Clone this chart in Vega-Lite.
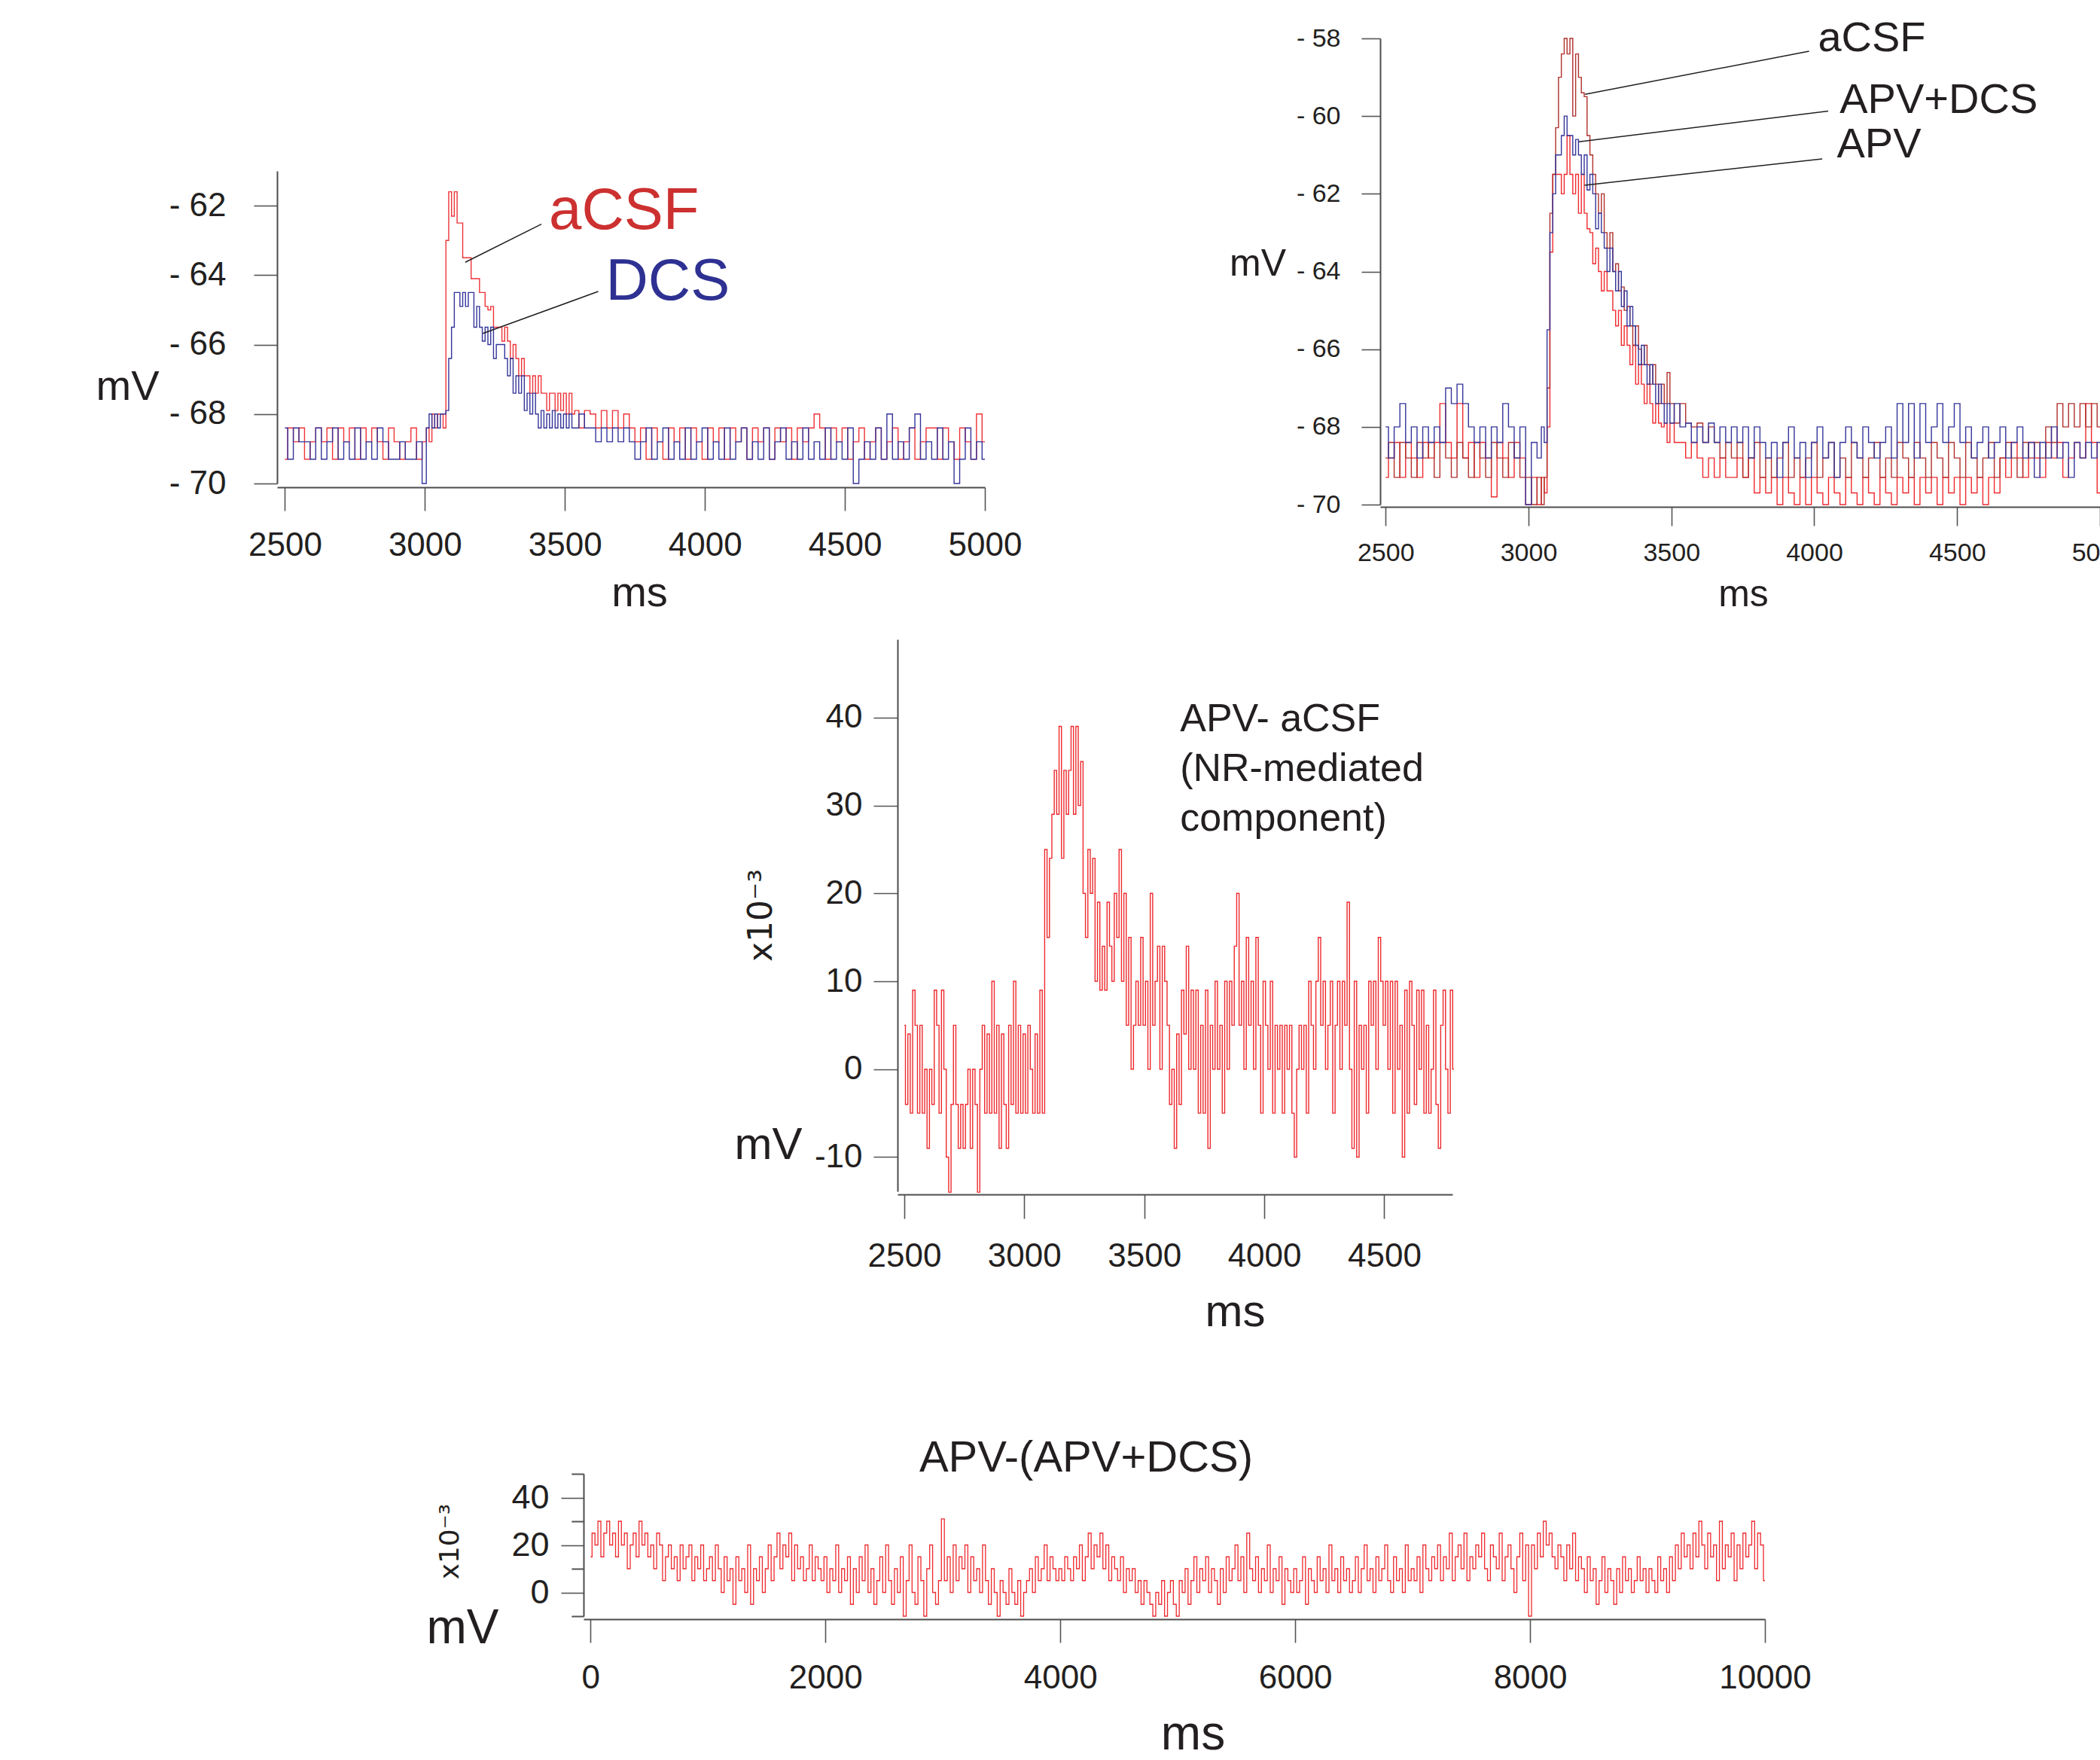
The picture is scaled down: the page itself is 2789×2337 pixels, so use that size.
{
"$schema": "https://vega.github.io/schema/vega-lite/v6.json",
"width": 2789, "height": 2337,
"autosize": {"type": "none"},
"padding": 0,
"background": "white",
"config": {
 "view": {"stroke": null},
 "axis": {"grid": false, "domainColor": "#4d4d4d", "domainWidth": 2, "tickColor": "#555555", "tickWidth": 1.6, "labelFont": "Liberation Sans", "titleFont": "Liberation Sans", "labelColor": "#231f20", "titleColor": "#231f20", "titleFontWeight": "normal", "labelFlush": false, "labelOverlap": false, "labelBound": false},
 "text": {"font": "Liberation Sans", "color": "#231f20"}
},
"datasets": {
"p1": [
{"t":2500,"a":-69.3,"d":-68.4},{"t":2520,"a":-68.4,"d":-69.3},{"t":2540,"a":-68.8,"d":-68.4},{"t":2560,"a":-68.4,"d":-68.8},{"t":2580,"a":-69.3,"d":-68.8},{"t":2600,"a":-68.8,"d":-69.3},{"t":2620,"a":-68.4,"d":-68.4},{"t":2640,"a":-68.8,"d":-69.3},{"t":2660,"a":-68.4,"d":-68.8},{"t":2680,"a":-69.3,"d":-68.4},{"t":2700,"a":-68.4,"d":-69.3},{"t":2720,"a":-68.8,"d":-68.8},{"t":2740,"a":-68.4,"d":-69.3},{"t":2760,"a":-69.3,"d":-68.4},{"t":2780,"a":-68.4,"d":-69.3},{"t":2800,"a":-68.8,"d":-68.8},{"t":2820,"a":-68.4,"d":-69.3},{"t":2840,"a":-68.8,"d":-68.4},{"t":2860,"a":-69.3,"d":-68.8},{"t":2880,"a":-68.4,"d":-69.3},{"t":2900,"a":-68.8,"d":-69.3},{"t":2920,"a":-69.3,"d":-68.8},{"t":2940,"a":-68.8,"d":-69.3},{"t":2960,"a":-68.4,"d":-69.3},{"t":2980,"a":-69.3,"d":-68.8},
{"t":3000,"a":-68.8,"d":-70.0},{"t":3010,"a":-68.4,"d":-68.4},{"t":3020,"a":-68.8,"d":-68.0},{"t":3030,"a":-68.0,"d":-68.4},{"t":3040,"a":-68.4,"d":-68.0},{"t":3050,"a":-68.0,"d":-68.4},{"t":3060,"a":-68.0,"d":-68.0},{"t":3070,"a":-68.4,"d":-68.0},{"t":3080,"a":-63.0,"d":-67.9},{"t":3090,"a":-61.6,"d":-66.4},{"t":3100,"a":-62.3,"d":-65.5},{"t":3110,"a":-61.6,"d":-64.5},{"t":3120,"a":-62.5,"d":-64.5},{"t":3130,"a":-62.5,"d":-64.9},{"t":3140,"a":-63.5,"d":-64.5},{"t":3150,"a":-63.5,"d":-64.9},{"t":3160,"a":-63.5,"d":-64.5},{"t":3170,"a":-64.1,"d":-64.5},{"t":3180,"a":-64.1,"d":-65.5},{"t":3190,"a":-64.1,"d":-64.9},{"t":3200,"a":-64.5,"d":-65.5},{"t":3210,"a":-64.5,"d":-65.9},{"t":3220,"a":-64.9,"d":-65.5},{"t":3230,"a":-65.0,"d":-66.0},{"t":3240,"a":-64.9,"d":-65.5},{"t":3250,"a":-65.5,"d":-66.4},{"t":3260,"a":-65.5,"d":-66.0},{"t":3270,"a":-65.5,"d":-66.0},{"t":3280,"a":-65.9,"d":-66.0},{"t":3290,"a":-65.5,"d":-66.4},{"t":3300,"a":-65.9,"d":-66.9},{"t":3310,"a":-66.4,"d":-66.4},{"t":3320,"a":-66.0,"d":-67.4},{"t":3330,"a":-66.4,"d":-66.9},{"t":3340,"a":-66.9,"d":-67.4},{"t":3350,"a":-66.4,"d":-66.9},{"t":3360,"a":-66.9,"d":-67.9},{"t":3370,"a":-66.9,"d":-67.4},{"t":3380,"a":-67.4,"d":-68.0},{"t":3390,"a":-66.9,"d":-67.4},{"t":3400,"a":-67.4,"d":-68.0},{"t":3410,"a":-66.9,"d":-68.4},{"t":3420,"a":-67.4,"d":-67.9},{"t":3430,"a":-67.4,"d":-68.4},{"t":3440,"a":-67.9,"d":-68.0},{"t":3450,"a":-67.4,"d":-68.4},{"t":3460,"a":-67.4,"d":-67.9},{"t":3470,"a":-67.9,"d":-68.4},{"t":3480,"a":-67.4,"d":-68.0},{"t":3490,"a":-67.9,"d":-68.4},{"t":3500,"a":-67.4,"d":-68.0},{"t":3510,"a":-68.0,"d":-68.4},{"t":3520,"a":-67.4,"d":-68.0},{"t":3530,"a":-68.0,"d":-68.4},{"t":3540,"a":-67.9,"d":-68.4},
{"t":3560,"a":-68.4,"d":-68.0},{"t":3580,"a":-67.9,"d":-68.4},{"t":3600,"a":-68.0,"d":-68.4},{"t":3620,"a":-68.4,"d":-68.8},{"t":3640,"a":-67.9,"d":-68.4},{"t":3660,"a":-68.4,"d":-68.8},{"t":3680,"a":-67.9,"d":-68.4},{"t":3700,"a":-68.4,"d":-68.8},{"t":3720,"a":-68.0,"d":-68.4},{"t":3740,"a":-68.4,"d":-68.8},
{"t":3760,"a":-68.8,"d":-69.3},{"t":3780,"a":-68.4,"d":-68.8},{"t":3800,"a":-69.3,"d":-68.4},{"t":3820,"a":-68.4,"d":-69.3},{"t":3840,"a":-68.8,"d":-68.8},{"t":3860,"a":-69.3,"d":-68.4},{"t":3880,"a":-68.4,"d":-69.3},{"t":3900,"a":-68.8,"d":-68.8},{"t":3920,"a":-68.4,"d":-69.3},{"t":3940,"a":-69.3,"d":-68.4},{"t":3960,"a":-68.4,"d":-69.3},{"t":3980,"a":-68.8,"d":-68.8},{"t":4000,"a":-69.3,"d":-68.4},{"t":4020,"a":-68.4,"d":-69.3},{"t":4040,"a":-68.8,"d":-68.8},{"t":4060,"a":-68.4,"d":-69.3},{"t":4080,"a":-69.3,"d":-68.4},{"t":4100,"a":-68.4,"d":-69.3},{"t":4120,"a":-68.8,"d":-68.8},{"t":4140,"a":-68.4,"d":-68.4},{"t":4160,"a":-69.3,"d":-69.3},{"t":4180,"a":-68.4,"d":-68.8},{"t":4200,"a":-68.8,"d":-69.3},{"t":4220,"a":-68.4,"d":-68.4},{"t":4240,"a":-69.3,"d":-69.3},{"t":4260,"a":-68.4,"d":-68.8},{"t":4280,"a":-68.8,"d":-68.4},{"t":4300,"a":-68.4,"d":-69.3},{"t":4320,"a":-69.3,"d":-68.8},{"t":4340,"a":-68.4,"d":-69.3},{"t":4360,"a":-68.8,"d":-68.4},{"t":4380,"a":-68.4,"d":-69.3},{"t":4400,"a":-68.0,"d":-68.8},{"t":4420,"a":-68.4,"d":-69.3},{"t":4440,"a":-69.3,"d":-68.4},{"t":4460,"a":-68.4,"d":-69.3},{"t":4480,"a":-68.8,"d":-68.8},{"t":4500,"a":-68.4,"d":-69.3},{"t":4520,"a":-69.3,"d":-68.4},{"t":4540,"a":-68.8,"d":-70.0},{"t":4560,"a":-68.4,"d":-69.3},{"t":4580,"a":-69.3,"d":-68.8},{"t":4600,"a":-68.8,"d":-69.3},{"t":4620,"a":-68.4,"d":-68.4},{"t":4640,"a":-69.3,"d":-69.3},{"t":4660,"a":-68.8,"d":-68.0},{"t":4680,"a":-68.4,"d":-69.3},{"t":4700,"a":-69.3,"d":-68.8},{"t":4720,"a":-68.8,"d":-69.3},{"t":4740,"a":-68.4,"d":-68.4},{"t":4760,"a":-69.3,"d":-68.0},{"t":4780,"a":-68.8,"d":-69.3},{"t":4800,"a":-68.4,"d":-68.8},{"t":4820,"a":-68.4,"d":-69.3},{"t":4840,"a":-69.3,"d":-68.4},{"t":4860,"a":-68.4,"d":-69.3},{"t":4880,"a":-68.8,"d":-68.8},{"t":4900,"a":-69.3,"d":-70.0},{"t":4920,"a":-68.4,"d":-69.3},{"t":4940,"a":-68.8,"d":-68.4},{"t":4960,"a":-69.3,"d":-69.3},{"t":4980,"a":-68.0,"d":-68.8},{"t":5000,"a":-68.8,"d":-69.3}
],
"p2": [
{"t":2500,"c":-68.8,"p":-69.3,"b":-68.0},{"t":2520,"c":-68.4,"p":-68.8,"b":-68.8},{"t":2540,"c":-69.3,"p":-68.4,"b":-68.0},{"t":2560,"c":-68.4,"p":-69.3,"b":-67.4},{"t":2580,"c":-68.8,"p":-68.4,"b":-68.4},{"t":2600,"c":-69.3,"p":-68.8,"b":-68.0},{"t":2620,"c":-68.4,"p":-69.3,"b":-68.8},{"t":2640,"c":-68.8,"p":-68.4,"b":-68.0},{"t":2660,"c":-68.4,"p":-68.8,"b":-68.4},{"t":2680,"c":-69.3,"p":-68.4,"b":-68.0},{"t":2700,"c":-68.4,"p":-67.4,"b":-68.4},{"t":2720,"c":-68.8,"p":-68.4,"b":-67.0},{"t":2740,"c":-69.3,"p":-68.8,"b":-67.4},{"t":2760,"c":-68.4,"p":-67.4,"b":-66.9},{"t":2780,"c":-68.8,"p":-68.8,"b":-67.4},{"t":2800,"c":-69.3,"p":-68.4,"b":-68.0},{"t":2820,"c":-68.4,"p":-69.3,"b":-68.4},{"t":2840,"c":-68.8,"p":-68.4,"b":-68.0},{"t":2860,"c":-69.3,"p":-68.8,"b":-68.8},{"t":2880,"c":-68.4,"p":-69.8,"b":-68.0},{"t":2900,"c":-68.8,"p":-68.4,"b":-68.4},{"t":2920,"c":-69.3,"p":-68.8,"b":-67.4},{"t":2940,"c":-68.4,"p":-69.3,"b":-68.0},{"t":2960,"c":-68.8,"p":-68.4,"b":-68.8},{"t":2980,"c":-69.3,"p":-68.8,"b":-68.0},{"t":3000,"c":-69.3,"p":-70.0,"b":-70.0},{"t":3020,"c":-70.0,"p":-69.3,"b":-68.4},{"t":3040,"c":-69.3,"p":-70.0,"b":-68.8},{"t":3050,"c":-70.0,"p":-69.3,"b":-68.0},
{"t":3060,"c":-69.3,"p":-69.7,"b":-68.4},{"t":3070,"c":-67.0,"p":-68.0,"b":-65.5},{"t":3080,"c":-62.5,"p":-63.5,"b":-63.0},{"t":3090,"c":-61.5,"p":-61.5,"b":-62.0},{"t":3100,"c":-60.3,"p":-61.5,"b":-61.0},{"t":3110,"c":-59.0,"p":-61.5,"b":-61.0},{"t":3120,"c":-58.4,"p":-62.0,"b":-60.5},{"t":3130,"c":-58.0,"p":-61.5,"b":-60.0},{"t":3140,"c":-58.4,"p":-60.5,"b":-60.5},{"t":3150,"c":-58.0,"p":-61.5,"b":-60.5},{"t":3160,"c":-60.0,"p":-62.0,"b":-61.0},{"t":3170,"c":-58.4,"p":-61.5,"b":-60.6},{"t":3180,"c":-59.0,"p":-62.5,"b":-61.0},{"t":3190,"c":-59.4,"p":-61.5,"b":-61.5},{"t":3200,"c":-59.5,"p":-62.5,"b":-61.0},{"t":3210,"c":-60.5,"p":-62.9,"b":-61.9},{"t":3220,"c":-61.0,"p":-63.0,"b":-61.5},{"t":3230,"c":-61.5,"p":-63.8,"b":-62.0},{"t":3240,"c":-62.0,"p":-63.4,"b":-62.9},{"t":3250,"c":-62.5,"p":-64.0,"b":-62.5},{"t":3260,"c":-62.0,"p":-64.5,"b":-63.0},{"t":3270,"c":-63.0,"p":-64.0,"b":-63.4},{"t":3280,"c":-63.4,"p":-64.5,"b":-64.0},{"t":3290,"c":-63.0,"p":-64.5,"b":-63.4},{"t":3300,"c":-64.0,"p":-65.0,"b":-64.0},{"t":3310,"c":-63.8,"p":-65.4,"b":-64.5},{"t":3320,"c":-64.5,"p":-65.0,"b":-64.0},{"t":3330,"c":-64.4,"p":-65.9,"b":-64.9},{"t":3340,"c":-65.0,"p":-65.4,"b":-64.5},{"t":3350,"c":-64.9,"p":-65.9,"b":-65.4},{"t":3360,"c":-65.4,"p":-66.4,"b":-64.9},{"t":3370,"c":-65.9,"p":-65.9,"b":-65.4},{"t":3380,"c":-65.4,"p":-66.9,"b":-65.9},{"t":3390,"c":-66.0,"p":-66.4,"b":-66.4},{"t":3400,"c":-66.4,"p":-66.9,"b":-65.9},{"t":3410,"c":-65.9,"p":-67.4,"b":-66.4},{"t":3420,"c":-66.4,"p":-66.9,"b":-66.9},{"t":3430,"c":-66.9,"p":-67.4,"b":-66.4},{"t":3440,"c":-66.4,"p":-67.9,"b":-66.9},{"t":3450,"c":-66.9,"p":-67.4,"b":-67.4},{"t":3460,"c":-67.4,"p":-67.9,"b":-66.9},{"t":3470,"c":-66.9,"p":-68.0,"b":-67.4},{"t":3480,"c":-67.4,"p":-67.9,"b":-67.9},{"t":3490,"c":-66.6,"p":-68.4,"b":-67.4},{"t":3500,"c":-67.4,"p":-67.9,"b":-67.9},
{"t":3520,"c":-67.9,"p":-68.4,"b":-67.4},{"t":3540,"c":-67.4,"p":-68.4,"b":-68.0},{"t":3560,"c":-67.9,"p":-68.8,"b":-67.9},{"t":3580,"c":-68.0,"p":-68.4,"b":-68.4},{"t":3600,"c":-67.9,"p":-68.8,"b":-68.0},{"t":3620,"c":-68.4,"p":-69.3,"b":-68.4},{"t":3640,"c":-68.0,"p":-68.8,"b":-67.9},{"t":3660,"c":-68.4,"p":-69.3,"b":-68.4},{"t":3680,"c":-68.8,"p":-68.8,"b":-68.0},{"t":3700,"c":-68.4,"p":-69.3,"b":-68.4},
{"t":3720,"c":-68.8,"p":-69.3,"b":-68.0},{"t":3740,"c":-68.4,"p":-68.8,"b":-68.4},{"t":3760,"c":-69.3,"p":-69.3,"b":-68.0},{"t":3780,"c":-68.8,"p":-68.8,"b":-68.8},{"t":3800,"c":-68.4,"p":-69.7,"b":-68.0},{"t":3820,"c":-69.3,"p":-69.3,"b":-68.4},{"t":3840,"c":-68.8,"p":-69.7,"b":-68.8},{"t":3860,"c":-69.3,"p":-69.3,"b":-68.4},{"t":3880,"c":-68.8,"p":-70.0,"b":-69.3},{"t":3900,"c":-68.4,"p":-69.3,"b":-68.4},{"t":3920,"c":-69.3,"p":-69.7,"b":-68.0},{"t":3940,"c":-68.8,"p":-70.0,"b":-68.8},{"t":3960,"c":-69.3,"p":-69.3,"b":-68.4},{"t":3980,"c":-68.8,"p":-70.0,"b":-69.3},{"t":4000,"c":-68.4,"p":-69.3,"b":-68.4},{"t":4020,"c":-69.3,"p":-69.7,"b":-68.0},{"t":4040,"c":-68.8,"p":-70.0,"b":-68.8},{"t":4060,"c":-68.4,"p":-69.3,"b":-68.4},{"t":4080,"c":-69.3,"p":-69.7,"b":-69.3},{"t":4100,"c":-68.8,"p":-70.0,"b":-68.4},{"t":4120,"c":-69.3,"p":-69.3,"b":-68.0},{"t":4140,"c":-68.4,"p":-69.7,"b":-68.4},{"t":4160,"c":-68.8,"p":-70.0,"b":-68.8},{"t":4180,"c":-69.3,"p":-69.3,"b":-68.0},{"t":4200,"c":-68.8,"p":-69.7,"b":-68.4},{"t":4220,"c":-68.4,"p":-70.0,"b":-68.8},{"t":4240,"c":-69.3,"p":-69.3,"b":-68.4},{"t":4260,"c":-68.8,"p":-69.7,"b":-68.0},{"t":4280,"c":-69.3,"p":-70.0,"b":-68.8},{"t":4300,"c":-68.4,"p":-69.3,"b":-67.4},{"t":4320,"c":-68.8,"p":-69.7,"b":-68.4},{"t":4340,"c":-69.3,"p":-69.3,"b":-67.4},{"t":4360,"c":-68.4,"p":-70.0,"b":-68.8},{"t":4380,"c":-68.8,"p":-69.3,"b":-67.4},{"t":4400,"c":-69.3,"p":-69.7,"b":-68.4},{"t":4420,"c":-68.4,"p":-69.3,"b":-68.0},{"t":4440,"c":-68.8,"p":-70.0,"b":-67.4},{"t":4460,"c":-69.3,"p":-69.3,"b":-68.4},{"t":4480,"c":-68.4,"p":-69.7,"b":-68.0},{"t":4500,"c":-68.8,"p":-69.3,"b":-67.4},{"t":4520,"c":-69.3,"p":-70.0,"b":-68.4},{"t":4540,"c":-68.4,"p":-69.3,"b":-68.0},{"t":4560,"c":-68.8,"p":-69.7,"b":-68.8},{"t":4580,"c":-69.3,"p":-69.3,"b":-68.4},{"t":4600,"c":-68.8,"p":-70.0,"b":-68.0},{"t":4620,"c":-68.4,"p":-69.3,"b":-68.8},{"t":4640,"c":-69.3,"p":-69.7,"b":-68.4},{"t":4660,"c":-68.8,"p":-68.8,"b":-68.0},{"t":4680,"c":-68.4,"p":-69.3,"b":-68.8},{"t":4700,"c":-68.8,"p":-68.4,"b":-68.4},{"t":4720,"c":-69.3,"p":-68.8,"b":-68.0},{"t":4740,"c":-68.4,"p":-69.3,"b":-68.8},{"t":4760,"c":-68.8,"p":-68.4,"b":-68.4},{"t":4780,"c":-68.4,"p":-68.8,"b":-69.3},{"t":4800,"c":-68.8,"p":-69.3,"b":-68.4},{"t":4820,"c":-68.0,"p":-68.4,"b":-68.8},{"t":4840,"c":-68.4,"p":-68.8,"b":-68.0},{"t":4860,"c":-67.4,"p":-68.4,"b":-68.8},{"t":4880,"c":-68.0,"p":-69.3,"b":-68.4},{"t":4900,"c":-67.4,"p":-68.8,"b":-69.3},{"t":4920,"c":-68.0,"p":-68.4,"b":-68.4},{"t":4940,"c":-67.4,"p":-68.8,"b":-68.8},{"t":4960,"c":-68.0,"p":-67.4,"b":-68.4},{"t":4980,"c":-67.4,"p":-68.4,"b":-68.8},{"t":5000,"c":-68.0,"p":-69.7,"b":-68.4}
],
"p3": [
{"t":2500,"v":5},{"t":2510,"v":-4},{"t":2520,"v":4},{"t":2530,"v":-5},{"t":2540,"v":9},{"t":2550,"v":5},{"t":2560,"v":-5},{"t":2570,"v":5},{"t":2580,"v":-5},{"t":2590,"v":0},{"t":2600,"v":-9},{"t":2610,"v":0},{"t":2620,"v":-4},{"t":2630,"v":9},{"t":2640,"v":5},{"t":2650,"v":-5},{"t":2660,"v":9},{"t":2670,"v":0},{"t":2680,"v":-10},{"t":2690,"v":-14},{"t":2700,"v":-4},{"t":2710,"v":5},{"t":2720,"v":-4},{"t":2730,"v":-9},{"t":2740,"v":-4},{"t":2750,"v":-9},{"t":2760,"v":-4},{"t":2770,"v":0},{"t":2780,"v":-9},{"t":2790,"v":0},{"t":2800,"v":-4},{"t":2810,"v":-14},{"t":2820,"v":0},{"t":2830,"v":5},{"t":2840,"v":-5},{"t":2850,"v":4},{"t":2860,"v":-5},{"t":2870,"v":10},{"t":2880,"v":-5},{"t":2890,"v":5},{"t":2900,"v":-9},{"t":2910,"v":4},{"t":2920,"v":-4},{"t":2930,"v":-9},{"t":2940,"v":5},{"t":2950,"v":-4},{"t":2960,"v":10},{"t":2970,"v":-5},{"t":2980,"v":5},{"t":2990,"v":-5},
{"t":3000,"v":4},{"t":3010,"v":-5},{"t":3020,"v":5},{"t":3030,"v":0},{"t":3040,"v":-5},{"t":3050,"v":4},{"t":3060,"v":-5},{"t":3070,"v":9},{"t":3080,"v":-5},{"t":3090,"v":25},{"t":3100,"v":15},{"t":3110,"v":24},{"t":3120,"v":29},{"t":3130,"v":34},{"t":3140,"v":29},{"t":3150,"v":39},{"t":3160,"v":24},{"t":3170,"v":34},{"t":3180,"v":29},{"t":3190,"v":34},{"t":3200,"v":39},{"t":3210,"v":29},{"t":3220,"v":39},{"t":3230,"v":30},{"t":3240,"v":35},{"t":3250,"v":20},{"t":3260,"v":15},{"t":3270,"v":25},{"t":3280,"v":20},{"t":3290,"v":24},{"t":3300,"v":10},{"t":3310,"v":19},{"t":3320,"v":9},{"t":3330,"v":14},{"t":3340,"v":9},{"t":3350,"v":19},{"t":3360,"v":14},{"t":3370,"v":10},{"t":3380,"v":20},{"t":3390,"v":15},{"t":3400,"v":25},{"t":3410,"v":10},{"t":3420,"v":20},{"t":3430,"v":5},{"t":3440,"v":15},{"t":3450,"v":0},{"t":3460,"v":5},{"t":3470,"v":10},{"t":3480,"v":5},{"t":3490,"v":15},
{"t":3500,"v":5},{"t":3510,"v":10},{"t":3520,"v":0},{"t":3530,"v":20},{"t":3540,"v":5},{"t":3550,"v":10},{"t":3560,"v":14},{"t":3570,"v":0},{"t":3580,"v":14},{"t":3590,"v":10},{"t":3600,"v":5},{"t":3610,"v":-4},{"t":3620,"v":0},{"t":3630,"v":-9},{"t":3640,"v":4},{"t":3650,"v":-4},{"t":3660,"v":9},{"t":3670,"v":4},{"t":3680,"v":14},{"t":3690,"v":0},{"t":3700,"v":9},{"t":3710,"v":0},{"t":3720,"v":9},{"t":3730,"v":-5},{"t":3740,"v":5},{"t":3750,"v":-5},{"t":3760,"v":9},{"t":3770,"v":-9},{"t":3780,"v":5},{"t":3790,"v":0},{"t":3800,"v":10},{"t":3810,"v":0},{"t":3820,"v":5},{"t":3830,"v":-5},{"t":3840,"v":10},{"t":3850,"v":0},{"t":3860,"v":10},{"t":3870,"v":5},{"t":3880,"v":14},{"t":3890,"v":20},{"t":3900,"v":5},{"t":3910,"v":10},{"t":3920,"v":0},{"t":3930,"v":15},{"t":3940,"v":5},{"t":3950,"v":10},{"t":3960,"v":0},{"t":3970,"v":15},{"t":3980,"v":5},{"t":3990,"v":-5},
{"t":4000,"v":10},{"t":4010,"v":5},{"t":4020,"v":0},{"t":4030,"v":10},{"t":4040,"v":-5},{"t":4050,"v":5},{"t":4060,"v":0},{"t":4070,"v":5},{"t":4080,"v":-5},{"t":4090,"v":5},{"t":4100,"v":0},{"t":4110,"v":5},{"t":4120,"v":-5},{"t":4130,"v":-10},{"t":4140,"v":0},{"t":4150,"v":5},{"t":4160,"v":0},{"t":4170,"v":5},{"t":4180,"v":-5},{"t":4190,"v":10},{"t":4200,"v":5},{"t":4210,"v":0},{"t":4220,"v":10},{"t":4230,"v":15},{"t":4240,"v":5},{"t":4250,"v":10},{"t":4260,"v":0},{"t":4270,"v":5},{"t":4280,"v":10},{"t":4290,"v":-5},{"t":4300,"v":5},{"t":4310,"v":10},{"t":4320,"v":0},{"t":4330,"v":10},{"t":4340,"v":5},{"t":4350,"v":19},{"t":4360,"v":0},{"t":4370,"v":-9},{"t":4380,"v":10},{"t":4390,"v":-10},{"t":4400,"v":5},{"t":4410,"v":0},{"t":4420,"v":5},{"t":4430,"v":-5},{"t":4440,"v":10},{"t":4450,"v":5},{"t":4460,"v":10},{"t":4470,"v":0},{"t":4480,"v":15},{"t":4490,"v":10},
{"t":4500,"v":5},{"t":4510,"v":10},{"t":4520,"v":0},{"t":4530,"v":10},{"t":4540,"v":-5},{"t":4550,"v":10},{"t":4560,"v":0},{"t":4570,"v":5},{"t":4580,"v":-10},{"t":4590,"v":9},{"t":4600,"v":-5},{"t":4610,"v":10},{"t":4620,"v":5},{"t":4630,"v":-4},{"t":4640,"v":9},{"t":4650,"v":0},{"t":4660,"v":9},{"t":4670,"v":-5},{"t":4680,"v":5},{"t":4690,"v":-5},{"t":4700,"v":0},{"t":4710,"v":9},{"t":4720,"v":-4},{"t":4730,"v":-9},{"t":4740,"v":5},{"t":4750,"v":9},{"t":4760,"v":0},{"t":4770,"v":-5},{"t":4780,"v":9},{"t":4790,"v":0}
],
"p4": [
{"t":0,"v":15},{"t":25,"v":25},{"t":50,"v":20},{"t":75,"v":30},{"t":100,"v":15},{"t":125,"v":25},{"t":150,"v":30},{"t":175,"v":20},{"t":200,"v":25},{"t":225,"v":15},{"t":250,"v":30},{"t":275,"v":20},{"t":300,"v":25},{"t":325,"v":10},{"t":350,"v":20},{"t":375,"v":25},{"t":400,"v":15},{"t":425,"v":30},{"t":450,"v":20},{"t":475,"v":25},{"t":500,"v":15},{"t":525,"v":20},{"t":550,"v":10},{"t":575,"v":25},{"t":600,"v":20},{"t":625,"v":5},{"t":650,"v":15},{"t":675,"v":20},{"t":700,"v":10},{"t":725,"v":15},{"t":750,"v":5},{"t":775,"v":20},{"t":800,"v":10},{"t":825,"v":15},{"t":850,"v":20},{"t":875,"v":5},{"t":900,"v":15},{"t":925,"v":10},{"t":950,"v":20},{"t":975,"v":5},
{"t":1000,"v":10},{"t":1025,"v":15},{"t":1050,"v":5},{"t":1075,"v":20},{"t":1100,"v":10},{"t":1125,"v":0},{"t":1150,"v":15},{"t":1175,"v":5},{"t":1200,"v":10},{"t":1225,"v":-5},{"t":1250,"v":15},{"t":1275,"v":5},{"t":1300,"v":10},{"t":1325,"v":0},{"t":1350,"v":20},{"t":1375,"v":-5},{"t":1400,"v":10},{"t":1425,"v":5},{"t":1450,"v":15},{"t":1475,"v":0},{"t":1500,"v":10},{"t":1525,"v":20},{"t":1550,"v":5},{"t":1575,"v":15},{"t":1600,"v":25},{"t":1625,"v":10},{"t":1650,"v":20},{"t":1675,"v":15},{"t":1700,"v":25},{"t":1725,"v":5},{"t":1750,"v":20},{"t":1775,"v":10},{"t":1800,"v":15},{"t":1825,"v":5},{"t":1850,"v":10},{"t":1875,"v":20},{"t":1900,"v":5},{"t":1925,"v":15},{"t":1950,"v":10},{"t":1975,"v":5},
{"t":2000,"v":15},{"t":2025,"v":0},{"t":2050,"v":10},{"t":2075,"v":5},{"t":2100,"v":20},{"t":2125,"v":0},{"t":2150,"v":10},{"t":2175,"v":5},{"t":2200,"v":15},{"t":2225,"v":-5},{"t":2250,"v":10},{"t":2275,"v":0},{"t":2300,"v":15},{"t":2325,"v":5},{"t":2350,"v":20},{"t":2375,"v":0},{"t":2400,"v":10},{"t":2425,"v":-5},{"t":2450,"v":5},{"t":2475,"v":15},{"t":2500,"v":0},{"t":2525,"v":20},{"t":2550,"v":5},{"t":2575,"v":-5},{"t":2600,"v":10},{"t":2625,"v":0},{"t":2650,"v":15},{"t":2675,"v":-10},{"t":2700,"v":5},{"t":2725,"v":20},{"t":2750,"v":0},{"t":2775,"v":-5},{"t":2800,"v":15},{"t":2825,"v":5},{"t":2850,"v":-10},{"t":2875,"v":10},{"t":2900,"v":20},{"t":2925,"v":0},{"t":2950,"v":-5},{"t":2975,"v":5},
{"t":3000,"v":31},{"t":3025,"v":5},{"t":3050,"v":15},{"t":3075,"v":0},{"t":3100,"v":20},{"t":3125,"v":5},{"t":3150,"v":15},{"t":3175,"v":10},{"t":3200,"v":20},{"t":3225,"v":0},{"t":3250,"v":15},{"t":3275,"v":5},{"t":3300,"v":10},{"t":3325,"v":0},{"t":3350,"v":20},{"t":3375,"v":5},{"t":3400,"v":-5},{"t":3425,"v":10},{"t":3450,"v":0},{"t":3475,"v":-10},{"t":3500,"v":5},{"t":3525,"v":0},{"t":3550,"v":-5},{"t":3575,"v":10},{"t":3600,"v":0},{"t":3625,"v":-5},{"t":3650,"v":5},{"t":3675,"v":-10},{"t":3700,"v":0},{"t":3725,"v":5},{"t":3750,"v":10},{"t":3775,"v":0},{"t":3800,"v":15},{"t":3825,"v":5},{"t":3850,"v":10},{"t":3875,"v":20},{"t":3900,"v":5},{"t":3925,"v":15},{"t":3950,"v":10},{"t":3975,"v":5},
{"t":4000,"v":10},{"t":4025,"v":5},{"t":4050,"v":15},{"t":4075,"v":10},{"t":4100,"v":5},{"t":4125,"v":15},{"t":4150,"v":10},{"t":4175,"v":20},{"t":4200,"v":5},{"t":4225,"v":15},{"t":4250,"v":25},{"t":4275,"v":10},{"t":4300,"v":20},{"t":4325,"v":15},{"t":4350,"v":25},{"t":4375,"v":10},{"t":4400,"v":20},{"t":4425,"v":5},{"t":4450,"v":15},{"t":4475,"v":10},{"t":4500,"v":5},{"t":4525,"v":15},{"t":4550,"v":0},{"t":4575,"v":10},{"t":4600,"v":5},{"t":4625,"v":10},{"t":4650,"v":0},{"t":4675,"v":5},{"t":4700,"v":-5},{"t":4725,"v":5},{"t":4750,"v":0},{"t":4775,"v":-5},{"t":4800,"v":-10},{"t":4825,"v":0},{"t":4850,"v":-5},{"t":4875,"v":5},{"t":4900,"v":-10},{"t":4925,"v":0},{"t":4950,"v":5},{"t":4975,"v":-5},
{"t":5000,"v":-10},{"t":5025,"v":5},{"t":5050,"v":0},{"t":5075,"v":10},{"t":5100,"v":-5},{"t":5125,"v":5},{"t":5150,"v":15},{"t":5175,"v":0},{"t":5200,"v":10},{"t":5225,"v":5},{"t":5250,"v":15},{"t":5275,"v":0},{"t":5300,"v":10},{"t":5325,"v":5},{"t":5350,"v":-5},{"t":5375,"v":10},{"t":5400,"v":0},{"t":5425,"v":15},{"t":5450,"v":5},{"t":5475,"v":10},{"t":5500,"v":20},{"t":5525,"v":5},{"t":5550,"v":15},{"t":5575,"v":0},{"t":5600,"v":25},{"t":5625,"v":10},{"t":5650,"v":5},{"t":5675,"v":15},{"t":5700,"v":0},{"t":5725,"v":10},{"t":5750,"v":5},{"t":5775,"v":20},{"t":5800,"v":0},{"t":5825,"v":10},{"t":5850,"v":5},{"t":5875,"v":15},{"t":5900,"v":-5},{"t":5925,"v":10},{"t":5950,"v":5},{"t":5975,"v":0},
{"t":6000,"v":10},{"t":6025,"v":0},{"t":6050,"v":5},{"t":6075,"v":15},{"t":6100,"v":-5},{"t":6125,"v":10},{"t":6150,"v":5},{"t":6175,"v":0},{"t":6200,"v":15},{"t":6225,"v":5},{"t":6250,"v":10},{"t":6275,"v":0},{"t":6300,"v":20},{"t":6325,"v":5},{"t":6350,"v":10},{"t":6375,"v":0},{"t":6400,"v":15},{"t":6425,"v":5},{"t":6450,"v":10},{"t":6475,"v":0},{"t":6500,"v":5},{"t":6525,"v":15},{"t":6550,"v":0},{"t":6575,"v":10},{"t":6600,"v":20},{"t":6625,"v":5},{"t":6650,"v":10},{"t":6675,"v":0},{"t":6700,"v":15},{"t":6725,"v":5},{"t":6750,"v":10},{"t":6775,"v":20},{"t":6800,"v":5},{"t":6825,"v":0},{"t":6850,"v":15},{"t":6875,"v":5},{"t":6900,"v":10},{"t":6925,"v":0},{"t":6950,"v":20},{"t":6975,"v":5},
{"t":7000,"v":10},{"t":7025,"v":5},{"t":7050,"v":15},{"t":7075,"v":0},{"t":7100,"v":20},{"t":7125,"v":10},{"t":7150,"v":5},{"t":7175,"v":15},{"t":7200,"v":10},{"t":7225,"v":20},{"t":7250,"v":5},{"t":7275,"v":15},{"t":7300,"v":10},{"t":7325,"v":25},{"t":7350,"v":5},{"t":7375,"v":15},{"t":7400,"v":20},{"t":7425,"v":10},{"t":7450,"v":25},{"t":7475,"v":5},{"t":7500,"v":15},{"t":7525,"v":10},{"t":7550,"v":20},{"t":7575,"v":15},{"t":7600,"v":25},{"t":7625,"v":10},{"t":7650,"v":5},{"t":7675,"v":20},{"t":7700,"v":15},{"t":7725,"v":10},{"t":7750,"v":25},{"t":7775,"v":5},{"t":7800,"v":15},{"t":7825,"v":20},{"t":7850,"v":10},{"t":7875,"v":0},{"t":7900,"v":15},{"t":7925,"v":25},{"t":7950,"v":5},{"t":7975,"v":20},
{"t":8000,"v":-10},{"t":8025,"v":20},{"t":8050,"v":10},{"t":8075,"v":25},{"t":8100,"v":15},{"t":8125,"v":30},{"t":8150,"v":20},{"t":8175,"v":25},{"t":8200,"v":15},{"t":8225,"v":10},{"t":8250,"v":20},{"t":8275,"v":15},{"t":8300,"v":5},{"t":8325,"v":20},{"t":8350,"v":10},{"t":8375,"v":25},{"t":8400,"v":5},{"t":8425,"v":15},{"t":8450,"v":10},{"t":8475,"v":0},{"t":8500,"v":15},{"t":8525,"v":5},{"t":8550,"v":10},{"t":8575,"v":-5},{"t":8600,"v":5},{"t":8625,"v":15},{"t":8650,"v":0},{"t":8675,"v":10},{"t":8700,"v":5},{"t":8725,"v":-5},{"t":8750,"v":10},{"t":8775,"v":0},{"t":8800,"v":15},{"t":8825,"v":5},{"t":8850,"v":10},{"t":8875,"v":0},{"t":8900,"v":5},{"t":8925,"v":15},{"t":8950,"v":5},{"t":8975,"v":10},
{"t":9000,"v":0},{"t":9025,"v":10},{"t":9050,"v":5},{"t":9075,"v":0},{"t":9100,"v":15},{"t":9125,"v":5},{"t":9150,"v":10},{"t":9175,"v":0},{"t":9200,"v":15},{"t":9225,"v":5},{"t":9250,"v":20},{"t":9275,"v":10},{"t":9300,"v":25},{"t":9325,"v":15},{"t":9350,"v":20},{"t":9375,"v":10},{"t":9400,"v":25},{"t":9425,"v":15},{"t":9450,"v":30},{"t":9475,"v":20},{"t":9500,"v":10},{"t":9525,"v":25},{"t":9550,"v":15},{"t":9575,"v":20},{"t":9600,"v":5},{"t":9625,"v":30},{"t":9650,"v":10},{"t":9675,"v":20},{"t":9700,"v":15},{"t":9725,"v":25},{"t":9750,"v":5},{"t":9775,"v":20},{"t":9800,"v":10},{"t":9825,"v":25},{"t":9850,"v":15},{"t":9875,"v":20},{"t":9900,"v":30},{"t":9925,"v":10},{"t":9950,"v":25},{"t":9975,"v":20},{"t":10000,"v":5}
],
"p1lab_a": [{"t":3443,"v":-62.66,"label":"aCSF"}],
"p1lab_d": [{"t":3646,"v":-64.71,"label":"DCS"}],
"p1lead": [{"t":3144,"v":-63.63,"t2":3416,"v2":-62.53},{"t":3207,"v":-65.68,"t2":3619,"v2":-64.47}],
"p2lab": [{"t":4013,"v":-58.33,"label":"aCSF"},{"t":4089,"v":-59.92,"label":"APV+DCS"},{"t":4079,"v":-61.06,"label":"APV"}],
"p2lead": [{"t":3198,"v":-59.44,"t2":3982,"v2":-58.33},{"t":3176,"v":-60.66,"t2":4049,"v2":-59.87},{"t":3196,"v":-61.78,"t2":4028,"v2":-61.10}],
"p3lab": [{"t":3649,"v":38.46,"label":"APV- aCSF\n(NR-mediated\ncomponent)"}],
"p3exp": [{"t":1908,"v":17.5,"label":"x10⁻³"}],
"p4lab": [{"t":4220,"v":51.0,"label":"APV-(APV+DCS)"}],
"p4exp": [{"t":-1197,"v":21.4,"label":"x10⁻³"}]
},
"layer": [
{
 "layer": [
  {"data": {"name": "p1"}, "mark": {"type": "line", "color": "#ee3338", "strokeWidth": 1.4, "interpolate": "step"},
   "encoding": {
    "x": {"field": "t", "type": "quantitative", "scale": {"domain": [2472, 5000], "range": [368, 1308], "nice": false, "zero": false},
      "axis": {"orient": "bottom", "offset": -1690, "values": [2500,3000,3500,4000,4500,5000], "format": "d", "tickSize": 31, "labelFontSize": 44, "labelPadding": 24, "title": "ms", "titleFontSize": 56, "titleX": 849, "titleY": 157, "titleAlign": "center", "titleBaseline": "alphabetic", "titleAngle": 0}},
    "y": {"field": "a", "type": "quantitative", "scale": {"domain": [-70, -61], "range": [642, 227], "nice": false, "zero": false},
      "axis": {"orient": "left", "offset": -368, "values": [-70,-68,-66,-64,-62], "labelExpr": "'- ' + abs(datum.value)", "tickSize": 31, "labelFontSize": 44, "labelPadding": 37, "title": "mV", "titleFontSize": 56, "titleX": -199, "titleY": 530, "titleAlign": "center", "titleBaseline": "alphabetic", "titleAngle": 0}}
   }},
  {"data": {"name": "p1"}, "mark": {"type": "line", "color": "#34359a", "strokeWidth": 1.4, "interpolate": "step"},
   "encoding": {"x": {"field": "t", "type": "quantitative"}, "y": {"field": "d", "type": "quantitative"}}},
  {"data": {"name": "p1lead"}, "mark": {"type": "rule", "color": "#231f20", "strokeWidth": 1.5},
   "encoding": {"x": {"field": "t", "type": "quantitative"}, "y": {"field": "v", "type": "quantitative"}, "x2": {"field": "t2"}, "y2": {"field": "v2"}}},
  {"data": {"name": "p1lab_a"}, "mark": {"type": "text", "color": "#cc3030", "fontSize": 78, "align": "left", "baseline": "alphabetic"},
   "encoding": {"x": {"field": "t", "type": "quantitative"}, "y": {"field": "v", "type": "quantitative"}, "text": {"field": "label"}}},
  {"data": {"name": "p1lab_d"}, "mark": {"type": "text", "color": "#2e3192", "fontSize": 78, "align": "left", "baseline": "alphabetic"},
   "encoding": {"x": {"field": "t", "type": "quantitative"}, "y": {"field": "v", "type": "quantitative"}, "text": {"field": "label"}}}
 ]
},
{
 "layer": [
  {"data": {"name": "p2"}, "mark": {"type": "line", "color": "#ee2a2e", "strokeWidth": 1.4, "interpolate": "step"},
   "encoding": {
    "x": {"field": "t", "type": "quantitative", "scale": {"domain": [2481, 5000], "range": [1833, 2789], "nice": false, "zero": false},
      "axis": {"orient": "bottom", "offset": -1664, "values": [2500,3000,3500,4000,4500,5000], "format": "d", "tickSize": 25, "labelFontSize": 34, "labelPadding": 19, "title": "ms", "titleFontSize": 50, "titleX": 2315, "titleY": 131, "titleAlign": "center", "titleBaseline": "alphabetic", "titleAngle": 0}},
    "y": {"field": "p", "type": "quantitative", "scale": {"domain": [-70, -58], "range": [670, 51], "nice": false, "zero": false},
      "axis": {"orient": "left", "offset": -1833, "values": [-70,-68,-66,-64,-62,-60,-58], "labelExpr": "'- ' + abs(datum.value)", "tickSize": 25, "labelFontSize": 34, "labelPadding": 28, "title": "mV", "titleFontSize": 50, "titleX": -163, "titleY": 365, "titleAlign": "center", "titleBaseline": "alphabetic", "titleAngle": 0}}
   }},
  {"data": {"name": "p2"}, "mark": {"type": "line", "color": "#b0302c", "strokeWidth": 1.4, "interpolate": "step"},
   "encoding": {"x": {"field": "t", "type": "quantitative"}, "y": {"field": "c", "type": "quantitative"}}},
  {"data": {"name": "p2"}, "mark": {"type": "line", "color": "#34359a", "strokeWidth": 1.4, "interpolate": "step"},
   "encoding": {"x": {"field": "t", "type": "quantitative"}, "y": {"field": "b", "type": "quantitative"}}},
  {"data": {"name": "p2lead"}, "mark": {"type": "rule", "color": "#231f20", "strokeWidth": 1.5},
   "encoding": {"x": {"field": "t", "type": "quantitative"}, "y": {"field": "v", "type": "quantitative"}, "x2": {"field": "t2"}, "y2": {"field": "v2"}}},
  {"data": {"name": "p2lab"}, "mark": {"type": "text", "fontSize": 56, "align": "left", "baseline": "alphabetic"},
   "encoding": {"x": {"field": "t", "type": "quantitative"}, "y": {"field": "v", "type": "quantitative"}, "text": {"field": "label"}}}
 ]
},
{
 "layer": [
  {"data": {"name": "p3"}, "mark": {"type": "line", "color": "#ee2a2e", "strokeWidth": 1.4, "interpolate": "step"},
   "encoding": {
    "x": {"field": "t", "type": "quantitative", "scale": {"domain": [2472, 4784], "range": [1192, 1929], "nice": false, "zero": false},
      "axis": {"orient": "bottom", "offset": -751, "values": [2500,3000,3500,4000,4500], "format": "d", "tickSize": 32, "labelFontSize": 44, "labelPadding": 28, "title": "ms", "titleFontSize": 60, "titleX": 1640, "titleY": 174, "titleAlign": "center", "titleBaseline": "alphabetic", "titleAngle": 0}},
    "y": {"field": "v", "type": "quantitative", "scale": {"domain": [-13.9, 48.9], "range": [1582, 849], "nice": false, "zero": false},
      "axis": {"orient": "left", "offset": -1192, "values": [-10,0,10,20,30,40], "labelExpr": "datum.value < 0 ? '-' + abs(datum.value) : '' + datum.value", "tickSize": 32, "labelFontSize": 44, "labelPadding": 15, "title": "mV", "titleFontSize": 60, "titleX": -172, "titleY": 1538, "titleAlign": "center", "titleBaseline": "alphabetic", "titleAngle": 0}}
   }},
  {"data": {"name": "p3lab"}, "mark": {"type": "text", "fontSize": 52, "align": "left", "baseline": "alphabetic", "lineBreak": "\n", "lineHeight": 66},
   "encoding": {"x": {"field": "t", "type": "quantitative"}, "y": {"field": "v", "type": "quantitative"}, "text": {"field": "label"}}},
  {"data": {"name": "p3exp"}, "mark": {"type": "text", "font": "DejaVu Sans", "fontSize": 44, "angle": 270, "align": "center", "baseline": "middle"},
   "encoding": {"x": {"field": "t", "type": "quantitative"}, "y": {"field": "v", "type": "quantitative"}, "text": {"field": "label"}}}
 ]
},
{
 "layer": [
  {"data": {"name": "p4"}, "mark": {"type": "line", "color": "#ee2a2e", "strokeWidth": 1.3, "interpolate": "step"},
   "encoding": {
    "x": {"field": "t", "type": "quantitative", "scale": {"domain": [-60, 10000], "range": [775, 2344], "nice": false, "zero": false},
      "axis": {"orient": "bottom", "offset": -187, "values": [0,2000,4000,6000,8000,10000], "format": "d", "tickSize": 31, "labelFontSize": 44, "labelPadding": 25, "title": "ms", "titleFontSize": 64, "titleX": 1584, "titleY": 172, "titleAlign": "center", "titleBaseline": "alphabetic", "titleAngle": 0}},
    "y": {"field": "v", "type": "quantitative", "scale": {"domain": [-10, 50], "range": [2146, 1957], "nice": false, "zero": false},
      "axis": {"orient": "left", "offset": -775, "values": [0,20,40], "format": "d", "tickSize": 30, "labelFontSize": 45, "labelPadding": 16, "title": "mV", "titleFontSize": 64, "titleX": -161, "titleY": 2181, "titleAlign": "center", "titleBaseline": "alphabetic", "titleAngle": 0}}
   }},
  {"data": {"name": "p4lab"}, "mark": {"type": "text", "fontSize": 58, "align": "center", "baseline": "alphabetic"},
   "encoding": {"x": {"field": "t", "type": "quantitative"},
     "y": {"field": "v", "type": "quantitative", "axis": {"orient": "right", "offset": -2014, "values": [-10,10,30,50], "tickSize": -16, "labels": false, "domain": false, "title": null}},
     "text": {"field": "label"}}},
  {"data": {"name": "p4exp"}, "mark": {"type": "text", "font": "DejaVu Sans", "fontSize": 36, "angle": 270, "align": "center", "baseline": "middle"},
   "encoding": {"x": {"field": "t", "type": "quantitative"},
     "y": {"field": "v", "type": "quantitative", "axis": {"orient": "right", "offset": -2014, "values": [-10,10,30,50], "tickSize": -16, "labels": false, "domain": false, "title": null}},
     "text": {"field": "label"}}}
 ]
}
],
"resolve": {"scale": {"x": "independent", "y": "independent"}, "axis": {"x": "independent", "y": "independent"}}
}
